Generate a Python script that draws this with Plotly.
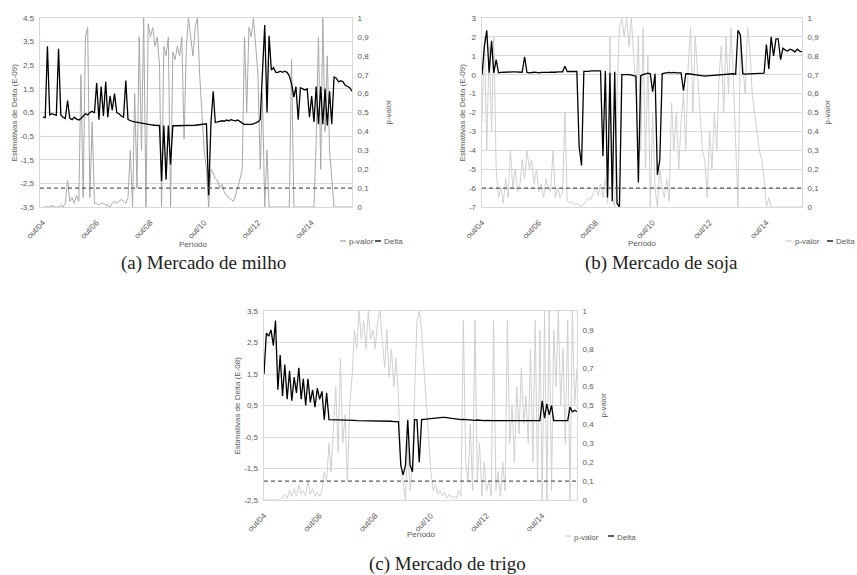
import pandas as pd
import plotly.graph_objects as go

# ---------------- data (monthly readings, starting out/2004) ----------------
delta_milho = [
    0.30, 0.28, 3.30, 0.40, 0.45, 0.42, 0.38, 3.20, 0.40, 0.30,
    0.25, 1.00, 0.25, 0.20, 0.30, 0.22, 0.18, 0.25, 0.35, 0.45,
    0.40, 0.50, 0.55, 0.48, 1.75, 0.20, 1.60, 0.35, 1.80, 0.30,
    1.20, 0.60, 1.30, 0.50, 0.45, 0.35, 0.30, 1.85, 0.20, 0.15,
    0.12, 0.10, 0.08, 0.07, 0.05, 0.03, 0.02, 0.00, -0.02, -0.03,
    -0.04, -0.05, -0.05, -2.40, -0.05, -2.35, -0.05, -1.70, -0.06, -0.06,
    -0.06, -0.06, -0.07, -0.06, -0.06, -0.05, -0.05, -0.04, -0.04, -0.03,
    -0.02, 0.00, 0.00, 0.02, -3.00, 0.05, 1.40, 0.08, 0.10, 0.12,
    0.15, 0.13, 0.18, 0.15, 0.20, 0.17, 0.15, 0.18, 0.10, 0.05,
    0.00, 0.00, -0.02, 0.00, 0.02, 0.05, 0.10, 0.20, 2.00, 4.20,
    0.50, 3.75, 2.30, 2.40, 2.20, 2.20, 2.25, 2.20, 2.25, 2.20,
    2.05, 1.70, 1.15, 1.60, 0.20, 1.55, 1.50, 1.45, 1.50, 0.30,
    1.20, 0.10, 1.60, 0.00, 1.60, 0.00, 1.50, -0.05, 1.40, 0.00,
    2.00, 1.95, 1.80, 1.85, 1.80, 1.65, 1.60, 1.55, 1.40,
]
pval_milho = [
    0.00, 0.00, 0.00, 0.00, 0.01, 0.00, 0.00, 0.00, 0.01, 0.00,
    0.02, 0.14, 0.03, 0.05, 0.02, 0.06, 0.03, 0.70, 0.05, 0.90,
    0.95, 0.05, 0.45, 0.02, 0.02, 0.01, 0.02, 0.02, 0.01, 0.01,
    0.00, 0.02, 0.03, 0.02, 0.03, 0.04, 0.03, 0.02, 0.05, 0.30,
    0.00, 0.60, 0.10, 0.90, 0.30, 1.00, 0.00, 0.97, 0.90, 0.95,
    0.85, 0.90, 0.75, 0.00, 0.85, 0.80, 0.90, 0.00, 0.82, 0.78,
    0.85, 0.80, 0.90, 0.36, 0.85, 1.00, 0.90, 0.80, 0.95, 1.00,
    0.70, 0.50, 0.30, 0.20, 0.00, 0.20, 0.18, 0.15, 0.14, 0.10,
    0.12, 0.08, 0.06, 0.05, 0.04, 0.03, 0.06, 0.10, 0.15, 0.20,
    0.90, 0.50, 0.95, 0.90, 1.00, 0.85, 0.70, 0.20, 0.60, 0.00,
    0.30, 0.00, 0.00, 0.00, 0.00, 0.00, 0.00, 0.00, 0.00, 0.00,
    0.00, 0.78, 0.00, 0.00, 0.00, 0.00, 0.00, 0.00, 0.00, 0.00,
    0.00, 0.00, 0.35, 0.90, 0.20, 1.00, 0.40, 0.80, 0.30, 0.15,
    0.00, 0.00, 0.00, 0.00, 0.00, 0.00, 0.00, 0.00, 0.00,
]
delta_soja = [
    0.00, 1.50, 2.35, 0.10, 1.80, 0.10, 0.80, 0.10, 0.12, 0.13,
    0.15, 0.14, 0.16, 0.15, 0.15, 0.14, 0.15, 0.13, 0.95, 0.12,
    0.10, 0.12, 0.13, 0.12, 0.10, 0.12, 0.11, 0.13, 0.12, 0.14,
    0.12, 0.13, 0.15, 0.14, 0.15, 0.45, 0.16, 0.17, 0.18, 0.18,
    0.17, -3.80, -4.80, 0.18, 0.17, 0.18, 0.20, 0.19, 0.18, 0.20,
    0.20, -4.30, 0.20, -6.50, 0.10, -6.70, 0.15, -6.80, -7.00, 0.00,
    0.00, 0.02, 0.00, -0.02, -0.05, -0.08, -5.70, -0.05, 0.00, 0.05,
    0.08, 0.05, -0.90, 0.05, -5.30, -4.50, 0.05, 0.08, 0.10, 0.12,
    0.10, 0.12, 0.10, 0.08, 0.10, -0.85, 0.05, 0.05, 0.03, 0.00,
    -0.02, -0.05, -0.06, -0.05, -0.07, -0.06, -0.05, -0.03, -0.02, 0.00,
    0.00, 0.02, 0.02, 0.00, 0.02, 0.03, 0.05, 0.03, 2.35, 2.10,
    0.05, 0.03, 0.04, 0.05, 0.04, 0.05, 0.06, 0.05, 0.06, 0.08,
    1.60, 0.30, 2.00, 1.00, 1.90, 1.90, 0.80, 1.40, 1.30, 1.25,
    1.35, 1.30, 1.20, 1.35, 1.25, 1.20,
]
pval_soja = [
    0.45, 0.90, 0.30, 0.85, 0.40, 0.90, 0.20, 0.05, 0.10, 0.02,
    0.15, 0.05, 0.30, 0.10, 0.20, 0.08, 0.12, 0.25, 0.15, 0.30,
    0.20, 0.25, 0.12, 0.20, 0.08, 0.12, 0.05, 0.15, 0.10, 0.08,
    0.30, 0.05, 0.10, 0.05, 0.08, 0.50, 0.03, 0.02, 0.03, 0.01,
    0.02, 0.01, 0.00, 0.02, 0.03, 0.05, 0.04, 0.08, 0.10, 0.06,
    0.12, 0.05, 0.15, 0.02, 0.90, 0.05, 0.00, 0.60, 0.95, 1.00,
    0.90, 1.00, 0.85, 1.00, 0.80, 0.60, 0.90, 0.30, 0.95, 0.20,
    0.80, 0.00, 0.50, 0.10, 0.00, 0.20, 0.10, 0.05, 0.15, 0.03,
    0.55, 0.30, 0.50, 0.20, 0.45, 0.60, 0.30, 0.75, 0.95, 0.50,
    0.90, 0.70, 0.45, 0.30, 0.25, 0.05, 0.40, 0.20, 0.50, 0.30,
    0.70, 0.85, 0.50, 0.90, 0.60, 0.95, 0.70, 0.30, 0.00, 0.90,
    0.75, 0.60, 0.95, 0.85, 0.60, 0.50, 0.40, 0.30, 0.25, 0.15,
    0.00, 0.05, 0.00, 0.00, 0.00, 0.00, 0.00, 0.00, 0.00, 0.00,
    0.00, 0.00, 0.00, 0.00, 0.00, 0.00,
]
delta_trigo = [
    1.50, 2.80, 2.70, 2.90, 2.40, 3.20, 1.00, 2.10, 0.80, 1.80,
    0.70, 1.60, 0.65, 1.40, 0.90, 1.70, 0.70, 1.35, 0.50, 1.35,
    0.60, 1.00, 0.45, 1.05, 0.70, 0.95, 0.05, 0.90, 0.05, 0.05,
    0.05, 0.04, 0.04, 0.04, 0.04, 0.03, 0.03, 0.03, 0.03, 0.03,
    0.02, 0.02, 0.02, 0.02, 0.02, 0.02, 0.01, 0.01, 0.01, 0.01,
    0.01, 0.00, 0.00, 0.00, 0.00, 0.00, -0.01, -0.01, -0.01, -1.40,
    -1.70, -1.40, 0.05, -1.40, -1.60, 0.05, 0.05, -1.30, 0.05, 0.06,
    0.07, 0.08, 0.09, 0.10, 0.10, 0.11, 0.12, 0.12, 0.12, 0.11,
    0.10, 0.08, 0.06, 0.05, 0.04, 0.05, 0.06, 0.05, 0.04, 0.05,
    0.04, 0.03, 0.04, 0.03, 0.03, 0.02, 0.03, 0.02, 0.02, 0.02,
    0.02, 0.02, 0.02, 0.02, 0.02, 0.02, 0.02, 0.02, 0.02, 0.02,
    0.02, 0.02, 0.02, 0.02, 0.02, 0.02, 0.02, 0.02, 0.02, 0.02,
    0.65, 0.10, 0.55, 0.20, 0.50, 0.02, 0.02, 0.02, 0.02, 0.02,
    0.02, 0.02, 0.45, 0.30, 0.35, 0.30,
]
pval_trigo = [
    0.00, 0.00, 0.00, 0.00, 0.00, 0.00, 0.00, 0.005, 0.01, 0.03,
    0.01, 0.05, 0.02, 0.06, 0.02, 0.08, 0.03, 0.05, 0.02, 0.10,
    0.03, 0.06, 0.02, 0.04, 0.02, 0.05, 0.15, 0.10, 0.30, 0.15,
    0.40, 0.60, 0.25, 0.75, 0.30, 0.45, 0.10, 0.50, 0.65, 0.90,
    0.80, 1.00, 0.85, 0.95, 0.80, 1.00, 0.85, 0.90, 0.80, 0.95,
    1.00, 0.85, 0.70, 0.90, 0.65, 0.80, 0.60, 0.75, 0.55, 0.20,
    0.10, 0.00, 0.30, 0.05, 0.20, 0.60, 0.95, 1.00, 0.90, 0.70,
    0.50, 0.30, 0.15, 0.05, 0.08, 0.03, 0.05, 0.02, 0.04, 0.01,
    0.03, 0.01, 0.02, 0.01, 0.05, 0.02, 0.95, 0.20, 0.10, 0.40,
    0.05, 0.95, 0.10, 0.30, 0.02, 0.20, 0.05, 0.10, 0.02, 0.95,
    0.05, 0.15, 0.02, 0.20, 0.05, 0.95, 0.30, 0.50, 0.20, 0.60,
    0.35, 0.70, 0.40, 0.55, 0.30, 0.80, 0.20, 0.95, 0.10, 0.90,
    0.00, 1.00, 0.00, 1.00, 0.05, 0.90, 0.60, 1.00, 0.50, 0.80,
    0.30, 0.95, 0.00, 1.00, 0.50, 0.70,
]

limiar_p = 0.1
xtick_dates = ["2004-10-01", "2006-10-01", "2008-10-01", "2010-10-01", "2012-10-01", "2014-10-01"]
xtick_text = ["out/04", "out/06", "out/08", "out/10", "out/12", "out/14"]
p_ticks = [0, 0.1, 0.2, 0.3, 0.4, 0.5, 0.6, 0.7, 0.8, 0.9, 1]
p_text = ["0", "0,1", "0,2", "0,3", "0,4", "0,5", "0,6", "0,7", "0,8", "0,9", "1"]
d_ticks_milho = [-3.5, -2.5, -1.5, -0.5, 0.5, 1.5, 2.5, 3.5, 4.5]
d_ticks_soja = [-7, -6, -5, -4, -3, -2, -1, 0, 1, 2, 3]
d_ticks_trigo = [-2.5, -1.5, -0.5, 0.5, 1.5, 2.5, 3.5]


def fmt(v):
    return ("%g" % v).replace(".", ",")


meses_milho = pd.date_range("2004-10-01", periods=len(delta_milho), freq="MS")
meses_soja = pd.date_range("2004-10-01", periods=len(delta_soja), freq="MS")
meses_trigo = pd.date_range("2004-10-01", periods=len(delta_trigo), freq="MS")

# ---------------- layout helpers ----------------
W, H = 857, 575
def px(x):
    return x / W
def py(y):
    return 1 - y / H

TXT = "#595959"
GRID = "#d9d9d9"
FONT = "Liberation Sans"

panels = [
    dict(n="", pn="", dn="2", dates=meses_milho, d=delta_milho, p=pval_milho, grey="#a8a8a8",
         xp=(40, 352), yp=(18, 207), xr=["2004-08-22", "2016-04-01"], dt=d_ticks_milho, dr=[-3.5, 4.5],
         ytitle="Estimativas de Delta (E-09)", ytx=14, ptx=388, per=(193, 244),
         leg=(340, 375, 242), cap="(a) Mercado de milho", capx=203, capy=263),
    dict(n="2", pn="3", dn="4", dates=meses_soja, d=delta_soja, p=pval_soja, grey="#d0d0d0",
         xp=(482, 802), yp=(18, 207), xr=["2004-10-01", "2016-01-01"], dt=d_ticks_soja, dr=[-7, 3],
         ytitle="Estimativas de Delta (E-09)", ytx=462, ptx=827, per=(642, 243),
         leg=(786, 827, 242), cap="(b) Mercado de soja", capx=661, capy=263),
    dict(n="3", pn="5", dn="6", dates=meses_trigo, d=delta_trigo, p=pval_trigo, grey="#d0d0d0",
         xp=(264, 577), yp=(311, 500), xr=["2004-10-01", "2016-01-01"], dt=d_ticks_trigo, dr=[-2.5, 3.5],
         ytitle="Estimativas de Delta (E-08)", ytx=237, ptx=603, per=(421, 534),
         leg=(565, 608, 537), cap="(c) Mercado de trigo", capx=447, capy=564),
]

fig = go.Figure()
layout = dict(
    template="none",
    width=W, height=H, margin=dict(l=0, r=0, t=0, b=0, pad=0), autosize=False,
    paper_bgcolor="white", plot_bgcolor="white", showlegend=False,
    font=dict(family=FONT, size=8, color=TXT), hovermode=False,
)
shapes = []
annotations = []

for P in panels:
    xa = "x" + P["n"]
    pa = "y" + P["pn"]
    da = "y" + P["dn"]
    fig.add_trace(go.Scatter(x=P["dates"], y=P["p"], mode="lines", name="p-valor",
                             line=dict(color=P["grey"], width=1), xaxis=xa, yaxis=pa))
    fig.add_trace(go.Scatter(x=P["dates"], y=P["d"], mode="lines", name="Delta",
                             line=dict(color="black", width=1.3), xaxis=xa, yaxis=da))
    layout["xaxis" + P["n"]] = dict(
        domain=[px(P["xp"][0]), px(P["xp"][1])], anchor=pa, range=P["xr"], automargin=False,
        tickvals=xtick_dates, ticktext=xtick_text, tickangle=-45,
        showgrid=False, showline=True, linecolor=GRID, linewidth=1, mirror=True, ticks="",
        tickfont=dict(size=8, color=TXT), ticklabelstandoff=7, zeroline=False,
    )
    layout["yaxis" + P["pn"]] = dict(
        domain=[py(P["yp"][1]), py(P["yp"][0])], anchor=xa, side="right", range=[0, 1], automargin=False,
        tickvals=p_ticks, ticktext=p_text, showgrid=False, zeroline=False,
        showline=True, linecolor=GRID, linewidth=1, mirror=True, ticks="",
        tickfont=dict(size=8, color=TXT), ticklabelstandoff=3,
    )
    layout["yaxis" + P["dn"]] = dict(
        overlaying=pa, anchor=xa, side="left", range=P["dr"], automargin=False,
        tickvals=P["dt"], ticktext=[fmt(v) for v in P["dt"]],
        showgrid=True, gridcolor=GRID, gridwidth=1, zeroline=False, showline=False,
        ticks="", tickfont=dict(size=8, color=TXT), ticklabelstandoff=5,
    )
    shapes.append(dict(type="line", xref=xa + " domain", x0=0, x1=1, yref=pa, y0=limiar_p, y1=limiar_p,
                       line=dict(color="#595959", width=1.3, dash="4px,3px"), layer="above"))
    ymid = (P["yp"][0] + P["yp"][1]) / 2
    annotations.append(dict(text=P["ytitle"], x=px(P["ytx"]), y=py(ymid), xref="paper", yref="paper",
                            xanchor="center", yanchor="middle",
                            showarrow=False, textangle=-90, font=dict(size=8, color=TXT)))
    annotations.append(dict(text="p-valor", x=px(P["ptx"]), y=py(ymid), xref="paper", yref="paper",
                            xanchor="center", yanchor="middle",
                            showarrow=False, textangle=-90, font=dict(size=8, color=TXT)))
    annotations.append(dict(text="Período", x=px(P["per"][0]), y=py(P["per"][1]), xref="paper", yref="paper",
                            xanchor="center", yanchor="middle",
                            showarrow=False, font=dict(size=8, color=TXT)))
    lx1, lx2, ly = P["leg"]
    shapes.append(dict(type="line", xref="paper", yref="paper", x0=px(lx1), x1=px(lx1 + 6),
                       y0=py(ly - 1), y1=py(ly - 1), line=dict(color=P["grey"], width=1.3)))
    annotations.append(dict(text="p-valor", x=px(lx1 + 7), y=py(ly), xref="paper", yref="paper",
                            xanchor="left", yanchor="middle", showarrow=False, font=dict(size=8, color=TXT)))
    shapes.append(dict(type="line", xref="paper", yref="paper", x0=px(lx2), x1=px(lx2 + 6),
                       y0=py(ly - 1), y1=py(ly - 1), line=dict(color="black", width=1.3)))
    annotations.append(dict(text="Delta", x=px(lx2 + 7), y=py(ly), xref="paper", yref="paper",
                            xanchor="left", yanchor="middle", showarrow=False, font=dict(size=8, color=TXT)))
    annotations.append(dict(text=P["cap"], x=px(P["capx"]), y=py(P["capy"]), xref="paper", yref="paper",
                            xanchor="center", yanchor="middle",
                            showarrow=False, font=dict(family="Liberation Serif", size=19, color="#222222")))

layout["shapes"] = shapes
layout["annotations"] = annotations
fig.update_layout(**layout)
fig.write_html("out.html", config={"displayModeBar": False, "staticPlot": True},
               post_script="document.body.style.margin='0';document.body.style.overflow='hidden';")
